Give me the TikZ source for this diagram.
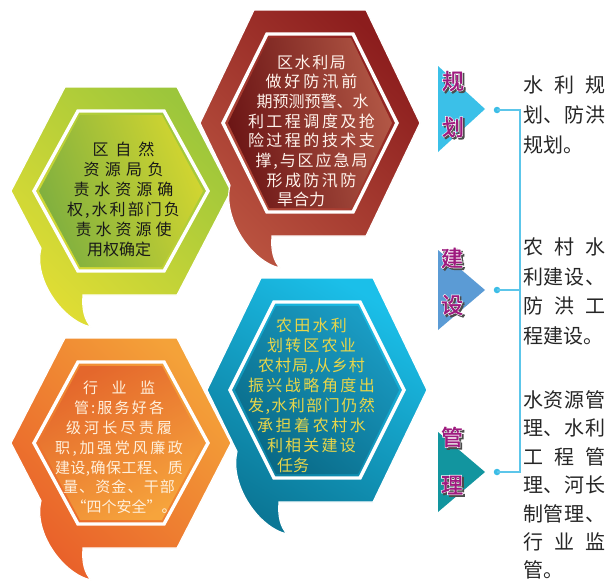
\documentclass[tikz,border=0pt]{standalone}
\usepackage{fontspec}
\setmainfont{Noto Sans CJK SC}
\newfontfamily\cjk{Noto Sans CJK SC}
\newfontfamily\cjkhalo[FakeBold=7]{Noto Sans CJK SC}
\newfontfamily\cjkbold[FakeBold=1.6]{Noto Sans CJK SC}

\definecolor{lblpurple}{HTML}{9E1A7E}
\definecolor{triA}{HTML}{3BC0E8}
\definecolor{triB}{HTML}{5B9BD5}
\definecolor{triC}{HTML}{12959F}
\definecolor{connC}{HTML}{5CC6EA}
\definecolor{dotC}{HTML}{3BBDE6}
\definecolor{gOutT}{HTML}{9CC63B}
\definecolor{gOutB}{HTML}{E0DD34}
\definecolor{gInT}{HTML}{D3D630}
\definecolor{gInB}{HTML}{7FAF3F}
\definecolor{rOutT}{HTML}{8C1D1D}
\definecolor{rOutB}{HTML}{B9523F}
\definecolor{rInT}{HTML}{B35846}
\definecolor{rInB}{HTML}{6B1515}
\definecolor{bOutT}{HTML}{1BBFE9}
\definecolor{bOutB}{HTML}{0B7796}
\definecolor{bInT}{HTML}{1A9CC4}
\definecolor{bInB}{HTML}{096A87}
\definecolor{oOutT}{HTML}{F4A239}
\definecolor{oOutB}{HTML}{E9612A}
\definecolor{oInT}{HTML}{E4672C}
\definecolor{oInB}{HTML}{F6A43C}
\definecolor{bTxt}{HTML}{E8D64A}
\definecolor{oTxt}{HTML}{FFF0DC}
\definecolor{rTxt}{HTML}{FFF3EC}

\makeatletter
\def\spr#1{\spr@#1\@nil}
\def\spr@#1#2\@nil{#1\ifx\relax#2\relax\else\hfill\spr@#2\@nil\fi}
\makeatother
\newcommand\sline[2]{\makebox[#1pt][s]{\spr{#2}}}
\newcommand\lline[2]{\makebox[#1pt][l]{#2}}

\newcommand\outerpath{(-110,0) -- (-56,-\hexH) -- (56,-\hexH) -- (110,0) -- (56,\hexH) -- (-38,\hexH) .. controls (-39,\hexH+14) and (-37,\hexH+24) .. (-30,\hexH+32) .. controls (-58,\hexH+26) and (-88,0.85*\hexH) .. (-80,0.55*\hexH) -- cycle}
\newcommand\innerpath{(-87,0) -- (-43,-\hexH+24) -- (43,-\hexH+24) -- (87,0) -- (43,\hexH-24) -- (-43,\hexH-24) -- cycle}
\newcommand\fillpath{(-82,0) -- (-41,-\hexH+28) -- (41,-\hexH+28) -- (82,0) -- (41,\hexH-28) -- (-41,\hexH-28) -- cycle}

\newcommand\hexagon[9]{%
\begin{scope}[shift={(#1,#2)}]
\def\hexH{#3}
\shadedraw[draw=white, line width=1.2, top color=#4, bottom color=#5, shading angle=#6] \outerpath;
\draw[white, line width=3.4] \innerpath;
\shade[top color=#7, bottom color=#8, shading angle=#9] \fillpath;
\end{scope}}

\newcommand\lab[4]{%
\node[labs] (#1s) at (#2+1.8,#3+1.8) {#4};
\node[labh] (#1h) at (#2,#3) {#4};
\node[labm] (#1) at (#2,#3) {#4};}

\tikzset{
  hextext/.style={align=center, inner sep=0pt},
  rtext/.style={align=left, inner sep=0pt, anchor=west, text=black!85},
  labs/.style={inner sep=0pt, font=\cjkhalo\fontsize{22}{22}\selectfont, text=black!70},
  labh/.style={inner sep=0pt, font=\cjkhalo\fontsize{22}{22}\selectfont, text=white},
  labm/.style={inner sep=0pt, font=\cjkbold\fontsize{22}{22}\selectfont, text=lblpurple},
  dotnode/.style={circle, fill=dotC, inner sep=0pt, minimum size=6.5pt},
  conn/.style={connC, line width=1.3pt},
}

\begin{document}
\begin{tikzpicture}[x=1pt,y=-1pt]
\useasboundingbox[fill=white] (0,0) rectangle (610,581);

% hexagons
\hexagon{121}{191}{104}{gOutT}{gOutB}{-45}{gInT}{gInB}{-70}
\hexagon{310}{123}{113}{rOutT}{rOutB}{-45}{rInT}{rInB}{-80}
\hexagon{121}{443}{105}{oOutT}{oOutB}{-45}{oInT}{oInB}{30}
\hexagon{317}{390}{112}{bOutT}{bOutB}{-30}{bInT}{bInB}{-40}

% hexagon texts
\node[hextext, text=black!90, font=\fontsize{16}{20}\selectfont] (gtext) at (123.5,199.5)
 {\sline{62}{区自然}\\\sline{80}{资源局负}\\\sline{100}{责水资源确}\\\sline{113}{权,水利部门负}\\\sline{96}{责水资源使}\\\lline{73}{用权确定}};
\node[hextext, text=rTxt, font=\fontsize{16}{19.7}\selectfont] (rtext) at (311.5,131)
 {\sline{69}{区水利局}\\\sline{92}{做好防汛前}\\\sline{110}{期预测预警、水}\\\sline{127}{利工程调度及抢}\\\sline{127}{险过程的技术支}\\\sline{112}{撑,与区应急局}\\\sline{90}{形成防汛防}\\\lline{69}{旱合力}};
\node[hextext, text=bTxt, font=\fontsize{16}{20}\selectfont] (btext) at (311.5,395)
 {\sline{71}{农田水利}\\\sline{89}{划转区农业}\\\sline{107}{农村局,从乡村}\\\sline{127}{振兴战略角度出}\\\sline{127}{发,水利部门仍然}\\\sline{109}{承担着农村水}\\\sline{89}{利相关建设}\\\lline{69}{任务}};
\node[hextext, text=oTxt, font=\fontsize{15}{19.8}\selectfont] (otext) at (119,447.5)
 {\sline{72}{行业监}\\\sline{90}{管:服务好各}\\\sline{106}{级河长尽责履}\\\sline{128}{职,加强党风廉政}\\\sline{128}{建设,确保工程、质}\\\sline{112}{量、资金、干部}\\\sline{95}{“四个安全”。}};

% triangles
\fill[triA] (438,66) -- (485,109) -- (438,152) -- cycle;
\fill[triB] (438,250) -- (485,290) -- (438,330) -- cycle;
\fill[triC] (438,432) -- (485,472) -- (438,512) -- cycle;

% labels
\lab{l1}{453}{81}{规}
\lab{l2}{453}{127}{划}
\lab{l3}{452}{258}{建}
\lab{l4}{452}{305}{设}
\lab{l5}{452}{437}{管}
\lab{l6}{452}{485}{理}

% connectors
\node[dotnode] (d1) at (497,110) {};
\node[dotnode] (d2) at (497,290) {};
\node[dotnode] (d3) at (497,472) {};
\coordinate (v1) at (520,110);
\coordinate (v2) at (520,290);
\coordinate (v3) at (520,472);
\draw[conn] (d1.center) -- (v1) -- (v3) -- (d3.center);
\draw[conn] (d2.center) -- (v2);

% right texts
\node[rtext, font=\fontsize{20}{30}\selectfont] (t1) at (523,115)
 {\sline{82}{水利规}\\\sline{82}{划、防洪}\\规划。};
\node[rtext, font=\fontsize{20}{29.7}\selectfont] (t2) at (523,291.5)
 {\sline{82}{农村水}\\\sline{82}{利建设、}\\\sline{82}{防洪工}\\程建设。};
\node[rtext, font=\fontsize{20}{28.4}\selectfont] (t3) at (523,485)
 {\sline{82}{水资源管}\\\sline{82}{理、水利}\\\sline{82}{工程管}\\\sline{82}{理、河长}\\\sline{82}{制管理、}\\\sline{82}{行业监}\\管。};
\end{tikzpicture}
\end{document}
